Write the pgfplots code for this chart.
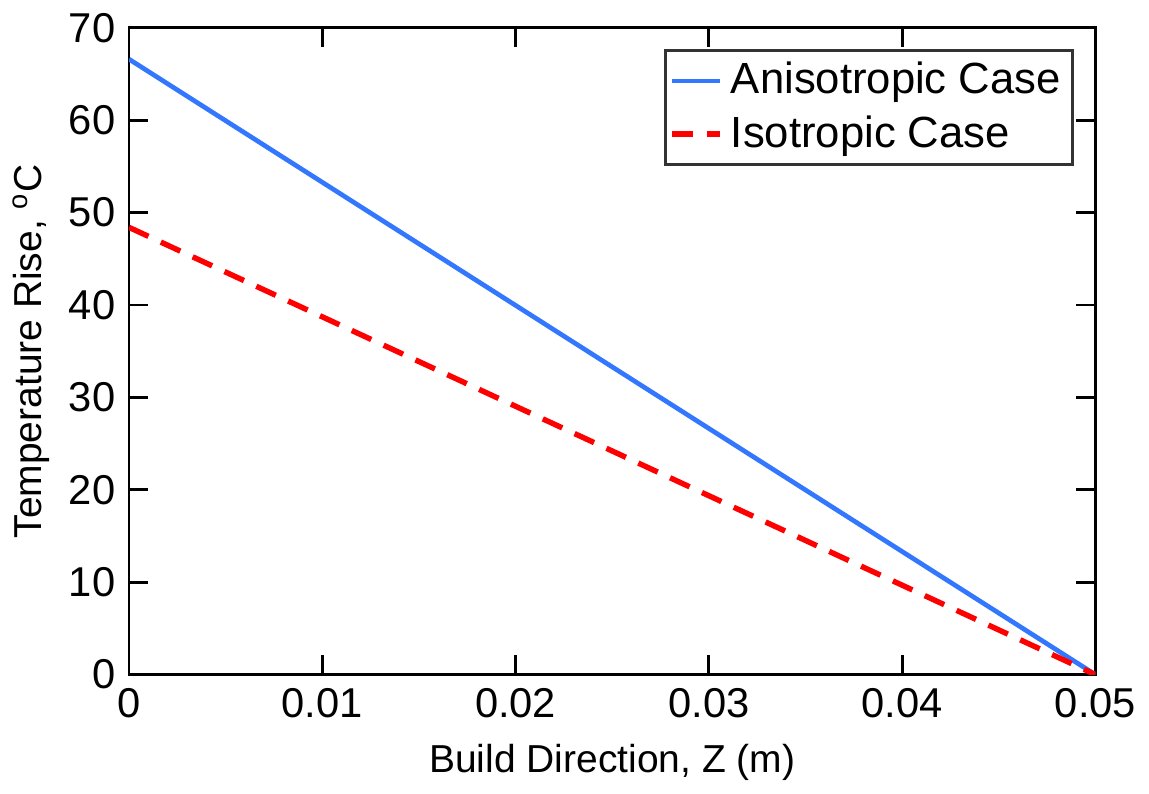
\documentclass[border=0pt]{standalone}
\usepackage{pgfplots}
\pgfplotsset{compat=1.18}
\usepackage{fontspec}
\setmainfont{Liberation Sans}
\definecolor{mblue}{RGB}{51,119,255}
\definecolor{mred}{RGB}{255,0,0}
\begin{document}
\begin{tikzpicture}
\begin{axis}[
  width=248pt, height=166pt, scale only axis,
  xmin=0, xmax=0.05, ymin=0, ymax=70,
  xtick={0,0.01,0.02,0.03,0.04,0.05},
  xticklabels={0,0.01,0.02,0.03,0.04,0.05},
  scaled x ticks=false,
  ytick={0,10,20,30,40,50,60,70},
  tick align=inside, major tick length=5pt,
  axis line style={line width=0.75pt},
  every tick/.style={line width=0.75pt, black},
  tick label style={font=\fontsize{10.7}{12}\selectfont},
  /pgf/number format/assume math mode=true,
  xlabel={Build Direction, Z (m)},
  ylabel={Temperature Rise, \textsuperscript{o}C},
  label style={font=\fontsize{10}{12}\selectfont},
  xlabel style={yshift=0pt},
  ylabel style={yshift=-2pt},
  legend style={at={(rel axis cs:1,1)}, anchor=north east, xshift=-5.5pt, yshift=-5.5pt,
    draw=black!80, line width=0.75pt, font=\fontsize{11.2}{12.75}\selectfont,
    inner sep=1pt, row sep=0pt, cells={anchor=west}},
  legend image code/.code={\draw[#1] (0cm,0cm) -- (12.5pt,0cm);},
]
\addplot[mblue, line width=1.2pt] coordinates {(0,66.6) (0.05,0)};
\addlegendentry{Anisotropic Case}
\addplot[mred, line width=1.4pt, dash pattern=on 5.5pt off 3.5pt] coordinates {(0,48.4) (0.05,0)};
\addlegendentry{Isotropic Case}
\end{axis}
\end{tikzpicture}
\end{document}
